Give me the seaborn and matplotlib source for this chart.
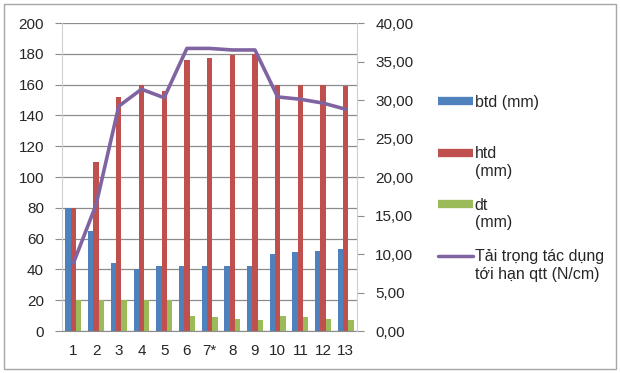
import numpy as np
import pandas as pd
import matplotlib
matplotlib.use("Agg")
import matplotlib.pyplot as plt
import seaborn as sns
from matplotlib.lines import Line2D
from matplotlib.patches import Rectangle
from matplotlib.ticker import FuncFormatter, MultipleLocator

#------------ data -----------
samples = ['1', '2', '3', '4', '5', '6', '7*', '8', '9', '10', '11', '12', '13']
btd = [80, 65, 44, 40, 42, 42, 42, 42, 42, 50, 51, 52, 53]
htd = [80, 110, 152, 160, 156, 176, 177, 179, 180, 160, 160, 160, 159]
dt = [20, 20, 20, 20, 20, 10, 9, 8, 7, 10, 9, 8, 7]
qtt = [8.8, 16.4, 29.2, 31.4, 30.3, 36.7, 36.7, 36.5, 36.5, 30.4, 30.1, 29.6, 28.8]

# trailing newline keeps every legend entry two lines high, like the Excel legend
labels = ['btd (mm)\n', 'htd\n(mm)', 'dt\n(mm)', 'Tải trọng tác dụng\ntới hạn qtt (N/cm)']
colors = ['#4F81BD', '#C0504D', '#9BBB59', '#8064A2']

df = pd.DataFrame({
    'mau': samples * 3,
    'gia_tri': btd + htd + dt,
    'loai': ['btd'] * 13 + ['htd'] * 13 + ['dt'] * 13,
})

sns.set_style('white')
plt.rcParams['font.family'] = ['Liberation Sans', 'DejaVu Sans']
plt.rcParams['font.size'] = 10.5

fig = plt.figure(figsize=(6.2, 3.73), dpi=100)
ax = fig.add_axes([0.1, 0.1126, 0.476, 0.8257])

#------------ bars -----------
sns.barplot(data=df, x='mau', y='gia_tri', hue='loai', palette=colors[:3],
            width=0.7, saturation=1, linewidth=0, legend=False, ax=ax)
ax.set_ylim(0, 200)
ax.yaxis.set_major_locator(MultipleLocator(20))
ax.set_axisbelow(True)
ax.yaxis.grid(True, color='#8c8c8c', lw=0.9)
ax.set_xlabel('')
ax.set_ylabel('')

#------------ line on right axis -----------
ax2 = ax.twinx()
sns.lineplot(x=np.arange(len(samples)), y=qtt, color=colors[3], lw=2.6, ax=ax2)
ax2.set_ylim(0, 40)
ax2.yaxis.set_major_locator(MultipleLocator(5))
ax2.yaxis.set_major_formatter(FuncFormatter(lambda v, p: f'{v:.2f}'.replace('.', ',')))
ax.set_xlim(-0.5, len(samples) - 0.5)

#------------ axes styling -----------
for a in (ax, ax2):
    for s in a.spines.values():
        s.set_visible(False)
ax.spines['left'].set_visible(True)
ax.spines['left'].set_color('#d0d0d0')
ax.spines['bottom'].set_visible(True)
ax.spines['bottom'].set_color('#8c8c8c')
ax2.spines['right'].set_visible(True)
ax2.spines['right'].set_color('#d0d0d0')

ax.tick_params(axis='y', length=5, color='#8c8c8c', pad=8, labelsize=11)
ax2.tick_params(axis='y', length=5, color='#8c8c8c', pad=8, labelsize=11)
ax.set_xticks(np.arange(-0.5, len(samples), 1), minor=True)
ax.tick_params(axis='x', which='major', length=0, pad=9, labelsize=11)
ax.tick_params(axis='x', which='minor', length=5, color='#8c8c8c')

#------------ legend -----------
handles = [Line2D([], [], color=c, lw=6, solid_capstyle='butt') for c in colors[:3]]
handles.append(Line2D([], [], color=colors[3], lw=2.5))
leg = fig.legend(handles, labels, loc='upper left', bbox_to_anchor=(0.683, 0.785),
                 frameon=False, handlelength=2.2, handleheight=1.1, handletextpad=0.1,
                 labelspacing=1.2, fontsize=11.5)
# put the key next to the first line of each label
for col in leg._legend_handle_box.get_children():
    for row in col.get_children():
        row.align = 'top'

fig.patches.append(Rectangle((0.006, 0.012), 0.988, 0.976, transform=fig.transFigure,
                             fill=False, edgecolor='#a6a6a6', lw=1))

fig.savefig('out.png', dpi=100)
